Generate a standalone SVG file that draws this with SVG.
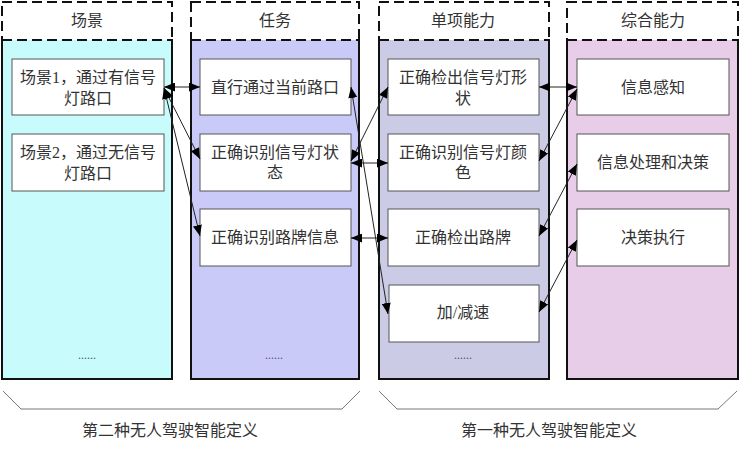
<svg xmlns="http://www.w3.org/2000/svg" width="740" height="468" viewBox="0 0 740 468">
<style>
text{font-family:"Liberation Serif","Noto Sans CJK SC",serif;font-size:16px;fill:#333;text-anchor:middle}
.col{fill:none;stroke:#111;stroke-width:2;stroke-dasharray:10 5}
.body{stroke:#111;stroke-width:2;stroke-dasharray:10 5}
.node rect{fill:#fff;stroke:#555;stroke-width:1}
.conn line{stroke:#222;stroke-width:1;marker-start:url(#ah);marker-end:url(#ah)}
.brace{fill:none;stroke:#777;stroke-width:1}
.dots{font-size:12px;fill:#556}
</style>
<defs>
<marker id="ah" viewBox="0 0 11 9" refX="11" refY="4.5" markerWidth="11" markerHeight="9" markerUnits="userSpaceOnUse" orient="auto-start-reverse">
<path d="M0,0 L11,4.5 L0,9 z" fill="#000"/>
</marker>
</defs>

<g id="col-scene">
<rect class="body" x="2" y="40" width="170" height="339" fill="#c8fcfc"/>
<rect class="col" x="2" y="2" width="170" height="377"/>
<text x="87" y="26">场景</text>
<text class="dots" x="87" y="359">......</text>
</g>
<g id="col-task">
<rect class="body" x="191" y="40" width="168" height="339" fill="#cacaf9"/>
<rect class="col" x="191" y="2" width="168" height="377"/>
<text x="275" y="26">任务</text>
<text class="dots" x="274" y="359">......</text>
</g>
<g id="col-single">
<rect class="body" x="379" y="40" width="170" height="339" fill="#cbcbe6"/>
<rect class="col" x="379" y="2" width="170" height="377"/>
<text x="463" y="26">单项能力</text>
<text class="dots" x="463" y="359">......</text>
</g>
<g id="col-comp">
<rect class="body" x="567" y="40" width="171" height="339" fill="#e8cde8"/>
<rect class="col" x="567" y="2" width="171" height="377"/>
<text x="653" y="26">综合能力</text>
</g>

<g id="n-s1" class="node"><rect x="12" y="59" width="152" height="56"/><text x="88" y="83">场景1，通过有信号</text><text x="88" y="104">灯路口</text></g>
<g id="n-s2" class="node"><rect x="12" y="134" width="152" height="57"/><text x="88" y="158">场景2，通过无信号</text><text x="88" y="179">灯路口</text></g>

<g id="n-t1" class="node"><rect x="200" y="59" width="151" height="56"/><text x="275" y="93">直行通过当前路口</text></g>
<g id="n-t2" class="node"><rect x="200" y="134" width="151" height="57"/><text x="275" y="158">正确识别信号灯状</text><text x="275" y="178">态</text></g>
<g id="n-t3" class="node"><rect x="200" y="209" width="151" height="57"/><text x="275" y="243">正确识别路牌信息</text></g>

<g id="n-c1" class="node"><rect x="388" y="59" width="151" height="56"/><text x="463" y="83">正确检出信号灯形</text><text x="463" y="104">状</text></g>
<g id="n-c2" class="node"><rect x="388" y="134" width="151" height="57"/><text x="463" y="158">正确识别信号灯颜</text><text x="463" y="178">色</text></g>
<g id="n-c3" class="node"><rect x="388" y="209" width="151" height="57"/><text x="463" y="243">正确检出路牌</text></g>
<g id="n-c4" class="node"><rect x="389" y="285" width="150" height="57"/><text x="463" y="318">加/减速</text></g>

<g id="n-g1" class="node"><rect x="577" y="59" width="152" height="56"/><text x="653" y="93">信息感知</text></g>
<g id="n-g2" class="node"><rect x="577" y="134" width="152" height="57"/><text x="653" y="168">信息处理和决策</text></g>
<g id="n-g3" class="node"><rect x="577" y="209" width="152" height="57"/><text x="653" y="243">决策执行</text></g>

<g id="connectors" class="conn">
<line x1="164" y1="87" x2="200" y2="87"/>
<line x1="164" y1="88" x2="200" y2="159"/>
<line x1="164" y1="88" x2="200" y2="236"/>
<line x1="351" y1="87" x2="388" y2="314"/>
<line x1="388" y1="87" x2="351" y2="161"/>
<line x1="351" y1="163" x2="388" y2="163"/>
<line x1="351" y1="238" x2="388" y2="238"/>
<line x1="539" y1="87" x2="577" y2="87"/>
<line x1="577" y1="89" x2="539" y2="161"/>
<line x1="577" y1="164" x2="539" y2="236"/>
<line x1="577" y1="240" x2="539" y2="312"/>
</g>

<g id="braces">
<path class="brace" d="M3,391 L21,409 L342,409 L360,391"/>
<path class="brace" d="M379,391 L397,409 L718,409 L737,391"/>
<text x="170" y="436">第二种无人驾驶智能定义</text>
<text x="549" y="436">第一种无人驾驶智能定义</text>
</g>
</svg>
